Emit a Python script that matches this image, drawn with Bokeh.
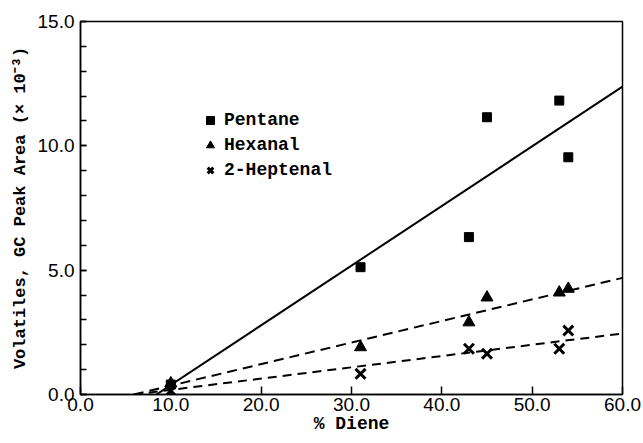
from bokeh.plotting import figure
from bokeh.models import Legend, LegendItem, FixedTicker, Range1d, ColumnDataSource
from bokeh.embed import file_html
from bokeh.resources import INLINE

# Data
diene = [10.0, 31.0, 43.0, 45.0, 53.0, 54.0]
pentane = [0.40, 5.12, 6.33, 11.15, 11.82, 9.54]
hexanal = [0.45, 1.90, 2.90, 3.90, 4.10, 4.25]
heptenal = [0.15, 0.83, 1.84, 1.64, 1.84, 2.57]

# Fit lines (end points)
pentane_line_x = [8.4, 60.0]
pentane_line_y = [0.0, 12.38]
hexanal_line_x = [5.9, 60.0]
hexanal_line_y = [0.0, 4.69]
heptenal_line_x = [5.9, 59.7]
heptenal_line_y = [0.0, 2.44]

x_ticks = [0, 10, 20, 30, 40, 50, 60]
y_ticks = [0, 5, 10, 15]
y_minor = list(range(0, 16))

LABEL_FONT = "Liberation Mono"
TICK_FONT = "Liberation Sans"

p = figure(width=643, height=443, output_backend="svg", toolbar_location=None,
           x_range=Range1d(0, 60), y_range=Range1d(0, 15),
           min_border_left=80, min_border_right=21, min_border_top=21, min_border_bottom=49)
p.grid.visible = False
p.outline_line_color = "black"
p.outline_line_width = 1.5
p.background_fill_color = "white"
p.border_fill_color = "white"

src = ColumnDataSource(dict(x=diene, pen=pentane, hex=hexanal, hep=heptenal))

p.line(pentane_line_x, pentane_line_y, line_color="black", line_width=2)
p.line(hexanal_line_x, hexanal_line_y, line_color="black", line_width=2, line_dash="10 6")
p.line(heptenal_line_x, heptenal_line_y, line_color="black", line_width=2, line_dash="9 6")

r1 = p.scatter("x", "pen", source=src, marker="square", size=9, color="black")
r2 = p.scatter("x", "hex", source=src, marker="triangle", size=12, color="black")
r3 = p.scatter("x", "hep", source=src, marker="x", size=14, line_color="black", line_width=3)

legend = Legend(items=[LegendItem(label="Pentane", renderers=[r1]),
                       LegendItem(label="Hexanal", renderers=[r2]),
                       LegendItem(label="2-Heptenal", renderers=[r3])],
                location=(120, 214), border_line_alpha=0, background_fill_alpha=0,
                padding=0, spacing=5, glyph_width=20, glyph_height=20, label_height=20,
                label_standoff=4, label_text_font=LABEL_FONT, label_text_font_size="18px",
                label_text_font_style="bold", label_text_color="black", margin=0)
p.add_layout(legend)

for ax in (p.xaxis[0], p.yaxis[0]):
    ax.axis_line_width = 1.5
    ax.axis_line_color = "black"
    ax.major_tick_out = 0
    ax.minor_tick_out = 0
    ax.major_tick_line_width = 1.5
    ax.minor_tick_line_width = 1.5
    ax.major_label_text_font = TICK_FONT
    ax.major_label_text_font_size = "19px"
    ax.major_label_text_color = "black"
    ax.axis_label_text_color = "black"
    ax.axis_label_text_font = LABEL_FONT
    ax.axis_label_text_font_style = "bold"

p.xaxis.ticker = FixedTicker(ticks=x_ticks)
p.xaxis.major_label_overrides = {t: f"{t:.1f}" for t in x_ticks}
p.xaxis.major_tick_in = 8
p.xaxis.minor_tick_in = 0
p.xaxis.axis_label = "% Diene"
p.xaxis.axis_label_text_font_size = "18px"
p.xaxis.axis_label_standoff = 0
p.xaxis.major_label_standoff = 3

p.yaxis.ticker = FixedTicker(ticks=y_ticks, minor_ticks=y_minor)
p.yaxis.major_label_overrides = {t: f"{t:.1f}" for t in y_ticks}
p.yaxis.major_tick_in = 6
p.yaxis.minor_tick_in = 6
p.yaxis.axis_label = "Volatiles, GC Peak Area (\u00d7 10\u207b\u00b3)"
p.yaxis.axis_label_text_font_size = "17px"
p.yaxis.axis_label_standoff = 5
p.yaxis.major_label_standoff = 6

open("out.html", "w").write(file_html(p, INLINE))
